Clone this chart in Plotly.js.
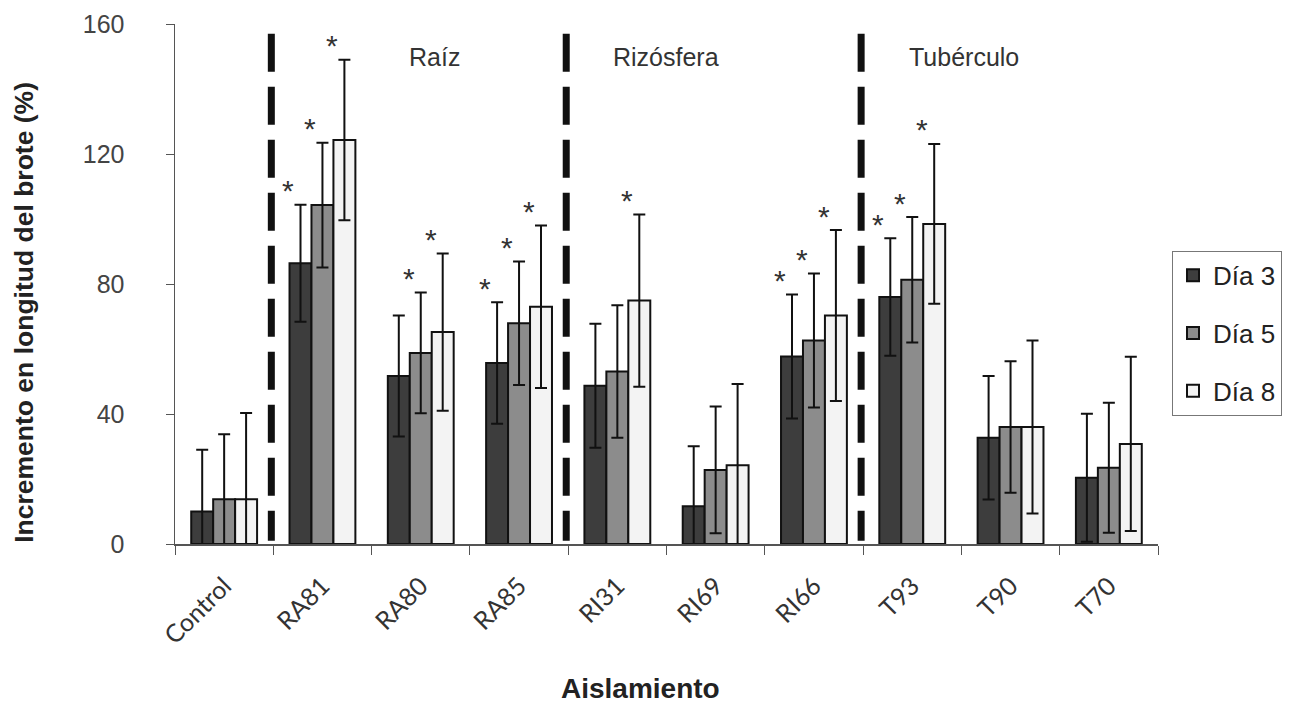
<!DOCTYPE html>
<html>
<head>
<meta charset="utf-8">
<script src="https://cdn.plot.ly/plotly-3.0.1.min.js"></script>
<style>html,body{margin:0;padding:0;background:#fff;}#chart{width:1311px;height:705px;}</style>
</head>
<body>
<div id="chart"></div>
<script>
// ---- data ----
const categories = ["Control","RA81","RA80","RA85","RI31","RI69","RI66","T93","T90","T70"];
const seriesNames = ["Día 3","Día 5","Día 8"];
const dia3 = [10.0, 86.4, 51.7, 55.7, 48.7, 11.6, 57.7, 76.0, 32.7, 20.4];
const dia5 = [13.8, 104.3, 58.8, 67.9, 53.1, 22.8, 62.6, 81.3, 36.0, 23.5];
const dia8 = [13.8, 124.3, 65.2, 73.0, 74.9, 24.2, 70.3, 98.5, 36.0, 30.8];
const err3 = [19.0, 18.0, 18.6, 18.7, 19.1, 18.5, 19.1, 18.1, 19.0, 19.7];
const err5 = [20.0, 19.2, 18.6, 19.0, 20.4, 19.5, 20.6, 19.3, 20.2, 20.0];
const err8 = [26.5, 24.7, 24.2, 25.0, 26.5, 25.0, 26.3, 24.6, 26.6, 26.8];
const sig3 = [0,1,0,1,0,0,1,1,0,0];
const sig5 = [0,1,1,1,0,0,1,1,0,0];
const sig8 = [0,1,1,1,1,0,1,1,0,0];
const groupLabels = ["Raíz","Rizósfera","Tubérculo"];
const groupStart = [1, 4, 7]; // index of first category of each group
const yTicks = [0, 40, 80, 120, 160];
const xTitle = "Aislamiento";
const yTitle = "Incremento en longitud del brote (%)";

// ---- styles ----
const colors = ["#3d3d3d", "#8c8c8c", "#f3f3f3"];
const vals = [dia3, dia5, dia8];
const errs = [err3, err5, err8];
const sigs = [sig3, sig5, sig8];
const sans = "Liberation Sans, Arial";

const traces = vals.map((v, i) => ({
  type: "bar",
  name: seriesNames[i],
  x: categories,
  y: v,
  legendgroup: "g" + i,
  marker: {color: colors[i], line: {color: "#111", width: 2}},
  error_y: {type: "data", array: errs[i], visible: true, color: "#111", thickness: 2, width: 6}
}));

const L = 175, T = 24, plotW = 1311 - 175 - 153, plotH = 544.3 - 24;
const catW = plotW / categories.length;
const bargap = 0.33;
const barW = catW * (1 - bargap) / 3;

const annotations = [];
sigs.forEach((s, i) => {
  s.forEach((f, j) => {
    if (f) {
      annotations.push({
        x: categories[j], y: vals[i][j] + errs[i][j], xref: "x", yref: "y",
        text: "*", showarrow: false,
        xshift: (i - 1) * barW - 12, yshift: 14,
        font: {family: sans, size: 30, color: "#333"}
      });
    }
  });
});
// left edge of each section label, in category units
const labelLeft = [1.857, 3.94, 6.95];
groupLabels.forEach((g, k) => {
  annotations.push({
    x: labelLeft[k], y: 150, xref: "x", yref: "y",
    text: g, showarrow: false, xanchor: "left",
    font: {family: sans, size: 25, color: "#333"}
  });
});
// axis titles
annotations.push({
  x: (640 - L) / plotW, y: -(689 - 544.3) / plotH, xref: "paper", yref: "paper",
  xanchor: "center", yanchor: "middle", showarrow: false, text: xTitle,
  font: {family: sans, size: 28, color: "#222", weight: "bold"}
});
annotations.push({
  x: (24 - L) / plotW, y: (544.3 - 313) / plotH, xref: "paper", yref: "paper",
  xanchor: "center", yanchor: "middle", showarrow: false, text: yTitle, textangle: -90,
  font: {family: sans, size: 26.5, color: "#222", weight: "bold"}
});

const shapes = groupStart.map(s => ({
  type: "line", xref: "x", yref: "y",
  x0: s - 0.52, x1: s - 0.52, y0: 157, y1: 1,
  line: {color: "#111", width: 7, dash: "38px,15px"}
}));

const layout = {
  width: 1311, height: 705,
  margin: {l: 175, r: 153, t: 24, b: 161},
  paper_bgcolor: "#fff", plot_bgcolor: "#fff",
  barmode: "group", bargap: bargap, bargroupgap: 0,
  showlegend: true,
  legend: {
    x: (1172 - L) / plotW, y: (544.3 - 251) / plotH, xanchor: "left", yanchor: "top",
    bordercolor: "#777", borderwidth: 1, bgcolor: "#fff",
    tracegroupgap: 21,
    font: {family: sans, size: 26, color: "#222"}
  },
  xaxis: {
    type: "category",
    tickangle: -45,
    ticks: "outside", tickson: "boundaries", ticklen: 9, tickcolor: "#555",
    showline: true, linecolor: "#555", linewidth: 1.5,
    showgrid: false, zeroline: false,
    ticklabelstandoff: 16,
    tickfont: {family: "Lato, Open Sans, Liberation Sans", size: 25, color: "#333"}
  },
  yaxis: {
    range: [0, 160], tickvals: yTicks, ticktext: yTicks.map(String),
    ticks: "outside", ticklen: 8, tickcolor: "#555",
    showline: true, linecolor: "#555", linewidth: 1.5,
    showgrid: false, zeroline: false,
    ticklabelstandoff: 36,
    tickfont: {family: sans, size: 25, color: "#444"}
  },
  annotations: annotations,
  shapes: shapes
};

Plotly.newPlot("chart", traces, layout, {displayModeBar: false, staticPlot: true});
</script>
</body>
</html>
